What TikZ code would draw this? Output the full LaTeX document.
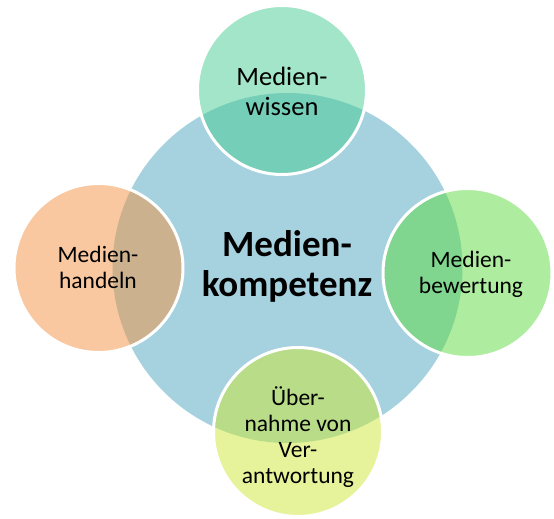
\documentclass[tikz,border=0pt]{standalone}
\usepackage{fontspec}
\setmainfont{Carlito}
\definecolor{cblue}{RGB}{166,210,223}
\definecolor{ctop}{RGB}{69,203,145}
\definecolor{cleft}{RGB}{243,145,65}
\definecolor{cright}{RGB}{93,219,65}
\definecolor{cbot}{RGB}{205,231,53}
\begin{document}
\begin{tikzpicture}[x=1pt,y=-1pt,
  sat/.style={circle, minimum size=169pt, inner sep=0pt, draw=white, line width=3pt, fill opacity=0.5},
  lab/.style={align=center, text=black, inner sep=0pt, font=\fontsize{23.5}{26}\selectfont},
  labbig/.style={align=center, text=black, inner sep=0pt, font=\fontsize{26.5}{30}\selectfont},
  corelab/.style={align=center, text=black, inner sep=0pt, font=\bfseries\fontsize{37}{40}\selectfont}]
\useasboundingbox (0,0) rectangle (554,519);
\node[circle, minimum size=350pt, inner sep=0pt, fill=cblue] (core) at (287.5,268) {};
\node[sat, fill=ctop] (wissen) at (282,90) {};
\node[sat, fill=cleft] (handeln) at (98.5,268) {};
\node[sat, fill=cright] (bewertung) at (467.5,273) {};
\node[sat, fill=cbot] (verantw) at (298,432) {};
\node[corelab] (tcore) at (287,266) {Medien-\\kompetenz};
\node[labbig] (twissen) at (282,91) {Medien-\\wissen};
\node[lab] (thandeln) at (98,267) {Medien-\\handeln};
\node[lab] (tbewertung) at (471,274.5) {Medien-\\bewertung};
\node[lab] (tverantw) at (298,437) {Über-\\nahme von\\Ver-\\antwortung};
\end{tikzpicture}
\end{document}
